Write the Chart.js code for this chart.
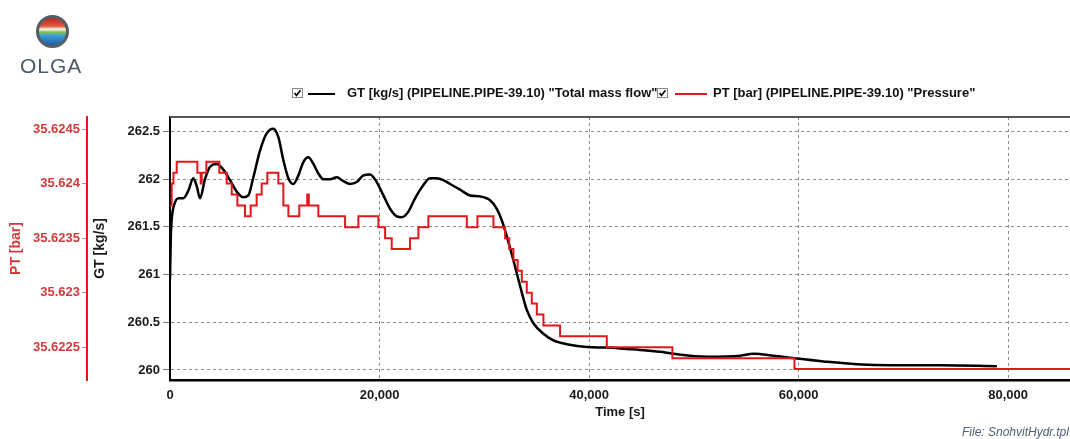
<!DOCTYPE html>
<html>
<head>
<meta charset="utf-8">
<title>OLGA trend - SnohvitHydr</title>
<script src="https://cdn.jsdelivr.net/npm/chart.js@4.4.1/dist/chart.umd.min.js"></script>
<style>
  html, body { margin:0; padding:0; background:#fff; overflow:hidden; }
  #wrap { position:relative; width:1070px; height:439px; font-family:"Liberation Sans", Arial, sans-serif; }
  #chartBox { position:absolute; left:0; top:0; width:1070px; height:439px; }
  .logo-ball { position:absolute; left:36px; top:15px; width:27px; height:27px; border-radius:50%;
    border:3px solid #575d64;
    background:linear-gradient(to bottom, #b8282a 0%, #e2563a 30%, #f4f4f4 42%, #86c440 52%, #3fa0d8 64%, #1d5ea9 100%); }
  .logo-text { position:absolute; left:20px; top:54px; font-size:21px; letter-spacing:1px; color:#4b5a69; }
  .cb { position:absolute; top:88px; width:9px; height:8px; border:1px solid #8a8a8a; background:#fff; }
  .cb svg { display:block; }
  .sw { position:absolute; top:93px; height:2px; }
  .lg { position:absolute; top:85px; font-weight:bold; font-size:13px; line-height:15px; color:#111; white-space:nowrap; }
  .file { position:absolute; left:962px; top:425px; font-size:12px; line-height:14px; font-style:italic; color:#4e6073; white-space:nowrap; }
</style>
</head>
<body>
<div id="wrap">
  <div id="chartBox"><canvas id="trend"></canvas></div>

  <div class="logo-ball"></div>
  <div class="logo-text">OLGA</div>

  <div class="cb" style="left:292px"><svg width="9" height="8"><polyline points="1.5,4 3.5,6.5 7.5,1.2" fill="none" stroke="#000" stroke-width="1.6"/></svg></div>
  <div class="sw" style="left:308px;width:27px;background:#000"></div>
  <div class="lg" style="left:347px">GT [kg/s] (PIPELINE.PIPE-39.10) "Total mass flow"</div>
  <div class="cb" style="left:657px"><svg width="9" height="8"><polyline points="1.5,4 3.5,6.5 7.5,1.2" fill="none" stroke="#000" stroke-width="1.6"/></svg></div>
  <div class="sw" style="left:675px;width:32px;background:#e3161c"></div>
  <div class="lg" style="left:713px">PT [bar] (PIPELINE.PIPE-39.10) "Pressure"</div>

  <div class="file">File: SnohvitHydr.tpl</div>
</div>

<script>
// total mass flow GT [kg/s] vs time [s]
var gtTime = [0, 80, 200, 318, 796, 1273, 1750, 2227, 2546, 2864, 3341, 3819, 4455, 5092, 5728,
  6365, 7001, 7478, 7956, 8592, 9229, 9865, 10343, 10820, 11297, 11775, 12252, 12729, 13207,
  13684, 14161, 14639, 15275, 15912, 16548, 17185, 17821, 18458, 19094, 19730, 20367, 21003,
  21640, 22117, 22754, 23390, 24186, 24822, 25459, 26095, 26732, 27686, 28641, 29595, 30550,
  31189, 31667, 32144, 32775, 33415, 34054, 34685, 35640, 36594, 37873, 39782, 41692, 43601,
  44871, 46780, 48052, 51240, 54420, 55690, 57600, 59830, 62370, 65560, 68740, 73510, 78920];
var gtFlow = [260.95, 261.40, 261.62, 261.70, 261.80, 261.80, 261.88, 262.01, 261.93, 261.80,
  262.00, 262.13, 262.16, 262.10, 261.99, 261.87, 261.81, 261.83, 262.02, 262.30, 262.48,
  262.53, 262.44, 262.20, 262.01, 261.95, 262.04, 262.18, 262.23, 262.16, 262.06, 262.00,
  262.00, 262.02, 261.98, 261.95, 261.97, 262.04, 262.05, 261.97, 261.83, 261.69, 261.61,
  261.60, 261.66, 261.80, 261.94, 262.01, 262.01, 261.99, 261.95, 261.89, 261.83, 261.82,
  261.78, 261.69, 261.57, 261.40, 261.15, 260.88, 260.63, 260.49, 260.38, 260.31, 260.27,
  260.24, 260.235, 260.22, 260.21, 260.19, 260.17, 260.14, 260.15, 260.17, 260.15, 260.12,
  260.09, 260.06, 260.05, 260.05, 260.04];

// pressure PT [bar], piecewise constant from each time
var ptTime = [0, 160, 330, 640, 2610, 2930, 3030, 3470, 4710, 5410, 5890, 6430, 7160, 7700,
  8270, 8750, 9290, 10340, 10820, 11300, 12340, 13100, 13250, 14160, 16710, 17980, 19890,
  20530, 21160, 22910, 23710, 24660, 28330, 29340, 30870, 31980, 32380, 32780, 33180, 33580,
  34050, 34530, 35010, 35640, 37230, 41690, 47950, 59600, 85900];
var ptPressure = [35.6238, 35.6240, 35.6241, 35.6242, 35.6241, 35.6240, 35.6241, 35.6242,
  35.6241, 35.6240, 35.6239, 35.6238, 35.6237, 35.6238, 35.6239, 35.6240, 35.6241, 35.6240,
  35.6238, 35.6237, 35.6238, 35.6239, 35.6238, 35.6237, 35.6236, 35.6237, 35.6236, 35.6235,
  35.6234, 35.6235, 35.6236, 35.6237, 35.6236, 35.6237, 35.6236, 35.6235, 35.6234, 35.6233,
  35.6232, 35.6231, 35.6230, 35.6229, 35.6228, 35.6227, 35.6226, 35.6225, 35.6224, 35.6223,
  35.6223];

var timeTicks = [0, 20000, 40000, 60000, 80000];
var gtTicks = [260, 260.5, 261, 261.5, 262, 262.5];
var ptTicks = [35.6225, 35.623, 35.6235, 35.624, 35.6245];

(function(){
  var RED = "#e3161c";
  var RED_TXT = "#d43a3a";

  Chart.defaults.font.family = '"Liberation Sans", Arial, sans-serif';
  Chart.defaults.font.size = 13;
  Chart.defaults.font.weight = "bold";
  Chart.defaults.color = "#1a1a1a";

  function pts(xs, ys){
    return xs.map(function(t, i){ return { x: t, y: ys[i] }; });
  }
  function fixedTicks(list){
    return function(scale){ scale.ticks = list.map(function(v){ return { value: v }; }); };
  }

  // upper frame line of the plot
  var frameTop = {
    id: "frameTop",
    afterDraw: function(chart){
      var a = chart.chartArea, ctx = chart.ctx;
      ctx.save();
      ctx.strokeStyle = "#555";
      ctx.lineWidth = 2;
      ctx.beginPath();
      ctx.moveTo(a.left, a.top);
      ctx.lineTo(a.right, a.top);
      ctx.stroke();
      ctx.restore();
    }
  };

  new Chart(document.getElementById("trend").getContext("2d"), {
    type: "line",
    data: {
      datasets: [
        {
          label: 'GT [kg/s] (PIPELINE.PIPE-39.10) "Total mass flow"',
          data: pts(gtTime, gtFlow),
          yAxisID: "gt",
          borderColor: "#000",
          borderWidth: 2.5,
          pointRadius: 0,
          cubicInterpolationMode: "monotone",
          order: 1
        },
        {
          label: 'PT [bar] (PIPELINE.PIPE-39.10) "Pressure"',
          data: pts(ptTime, ptPressure),
          yAxisID: "pt",
          borderColor: RED,
          borderWidth: 2,
          pointRadius: 0,
          stepped: true,
          order: 0
        }
      ]
    },
    options: {
      responsive: true,
      maintainAspectRatio: false,
      animation: false,
      events: [],
      layout: { padding: { top: 117, left: 0, right: 0, bottom: 0 } },
      plugins: { legend: { display: false }, tooltip: { enabled: false } },
      scales: {
        x: {
          type: "linear",
          position: "bottom",
          min: 0,
          max: 85900,
          afterBuildTicks: fixedTicks(timeTicks),
          afterFit: function(s){ s.height = 59; },
          ticks: {
            padding: 8,
            maxRotation: 0,
            autoSkip: false,
            callback: function(v){ return Number(v).toLocaleString("en-US"); }
          },
          grid: { color: "#8c8c8c", lineWidth: 1, drawTicks: false },
          border: { color: "#000", width: 2.5, dash: [3, 3] },
          title: { display: true, text: "Time [s]", font: { size: 13, weight: "bold" }, padding: { top: 0, bottom: 19 } }
        },
        gt: {
          type: "linear",
          position: "left",
          weight: 0,
          min: 259.895,
          max: 262.652,
          afterBuildTicks: fixedTicks(gtTicks),
          afterFit: function(s){ s.width = 83; },
          ticks: { padding: 3, callback: function(v){ return String(v); } },
          grid: { color: "#8c8c8c", lineWidth: 1, tickLength: 7, tickColor: "#777" },
          border: { color: "#000", width: 2, dash: [3, 3] },
          title: { display: true, text: "GT [kg/s]", font: { size: 14, weight: "bold" }, padding: { top: 5, bottom: 0 } }
        },
        pt: {
          type: "linear",
          position: "left",
          weight: 10,
          min: 35.6222,
          max: 35.62461,
          afterBuildTicks: fixedTicks(ptTicks),
          afterFit: function(s){ s.width = 87; },
          ticks: { padding: 2, color: RED_TXT, callback: function(v){ return String(+Number(v).toFixed(4)); } },
          grid: { drawOnChartArea: false, tickLength: 5, tickColor: "#999" },
          border: { color: RED, width: 2 },
          title: { display: true, text: "PT [bar]", color: RED_TXT, font: { size: 14, weight: "bold" }, padding: { top: 8, bottom: 0 } }
        }
      }
    },
    plugins: [frameTop]
  });
})();
</script>
</body>
</html>
